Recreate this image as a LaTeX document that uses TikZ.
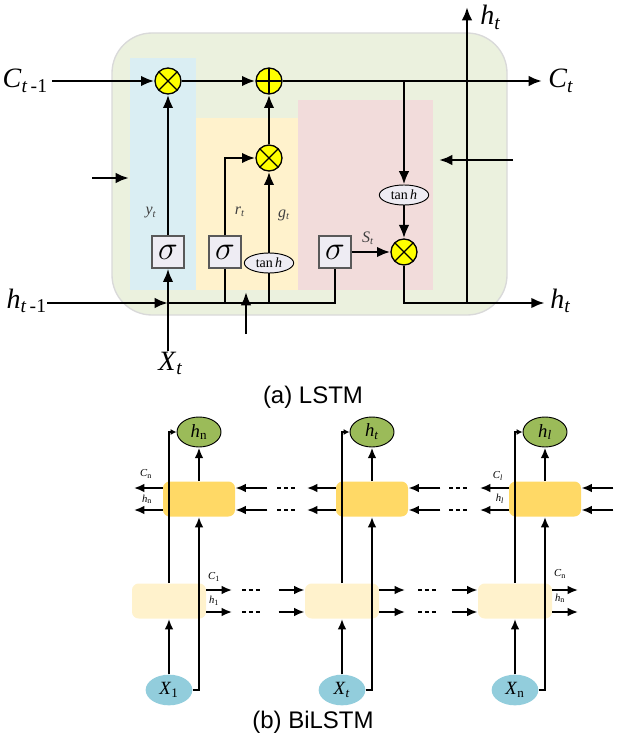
\documentclass[tikz,border=0pt]{standalone}
\usepackage{amsmath,amssymb}
\usepackage{fontspec}
\setmainfont{Liberation Serif}
\newfontfamily\capfont{Liberation Sans}
\usepackage{xcolor}
\usepackage{tikz}
\usetikzlibrary{positioning,arrows.meta,shapes.geometric,calc}

\definecolor{cellgreen}{RGB}{235,241,222}
\definecolor{gateblue}{RGB}{218,238,243}
\definecolor{gateyellow}{RGB}{255,242,204}
\definecolor{gatepink}{RGB}{242,220,219}
\definecolor{gatefill}{RGB}{238,236,243}
\definecolor{opyellow}{RGB}{255,255,0}
\definecolor{outgreen}{RGB}{155,187,89}
\definecolor{inblue}{RGB}{146,205,220}
\definecolor{bwdcolor}{RGB}{255,217,102}
\definecolor{fwdcolor}{RGB}{255,242,204}

% italic letter with subscript, Times-like
\newcommand{\vlab}[2]{\textit{#1}\textsubscript{#2}}

\tikzset{
op/.style={
circle,
draw,
line width=1pt,
fill=opyellow,
minimum size=19.5pt,
inner sep=0pt
},
mult/.style={
op,
path picture={\draw[line width=1pt]
(path picture bounding box.north west)--(path picture bounding box.south east)
(path picture bounding box.north east)--(path picture bounding box.south west);}
},
plusop/.style={
op,
path picture={\draw[line width=1pt]
(path picture bounding box.north)--(path picture bounding box.south)
(path picture bounding box.west)--(path picture bounding box.east);}
},
gate/.style={
draw=black!65,
line width=0.9pt,
fill=gatefill,
minimum size=24pt,
inner sep=0pt,
font=\fontsize{24}{24}\selectfont
},
tanhbox/.style={
ellipse,
draw,
line width=0.7pt,
fill=gatefill,
minimum width=37pt,
minimum height=15pt,
inner sep=0pt,
font=\fontsize{10.5}{10.5}\selectfont
},
arrow/.style={
-{Latex[length=10pt,width=8pt]},
line width=2pt
},
link/.style={
line width=2pt
},
biglabel/.style={
font=\fontsize{21}{24}\selectfont,
inner sep=0pt
},
gatelabel/.style={
font=\fontsize{12}{14}\selectfont,
text=black!75
},
fwdcell/.style={
fill=fwdcolor,
rounded corners=5pt,
minimum width=55.5pt,
minimum height=26.25pt,
inner sep=0pt
},
bwdcell/.style={
fill=bwdcolor,
rounded corners=5pt,
minimum width=54pt,
minimum height=26.25pt,
inner sep=0pt
},
outnode/.style={
ellipse,
draw,
line width=0.7pt,
fill=outgreen,
minimum width=33pt,
minimum height=22.5pt,
inner sep=0pt,
font=\fontsize{14}{14}\selectfont
},
innode/.style={
ellipse,
fill=inblue,
minimum width=35pt,
minimum height=23pt,
inner sep=0pt,
font=\fontsize{14}{14}\selectfont
},
biarrow/.style={
-{Latex[length=8pt,width=6.5pt]},
line width=1.6pt
},
thinarrow/.style={
-{Latex[length=4.5pt,width=4.5pt]},
line width=1.2pt
},
dotline/.style={
line width=1.6pt,
dash pattern=on 3pt off 2.2pt
},
tinylabel/.style={
font=\fontsize{8}{8}\selectfont,
inner sep=0pt
},
caption/.style={
font=\capfont\fontsize{18}{20}\selectfont
}
}

\begin{document}
\begin{tikzpicture}[x=0.75pt,y=-0.75pt]
\useasboundingbox (0,0) rectangle (620,737);

% (a) LSTM cell
\draw[fill=cellgreen,draw=black!15,line width=1pt,rounded corners=30pt] (112,33) rectangle (507,315);
\fill[gateblue] (130,58) rectangle (196,290);
\fill[gateyellow] (196,118) rectangle (298,290);
\fill[gatepink] (298,100) rectangle (433,290);

\node[mult](m1) at (168,81){};
\node[plusop](p1) at (269,81){};
\node[mult](m2) at (269,158){};
\node[mult](m3) at (404,252){};
\node[gate](s1) at (168,252){$\sigma$};
\node[gate](s2) at (225,252){$\sigma$};
\node[gate](s3) at (335,252){$\sigma$};
\node[tanhbox](th1) at (269,263){tan\,\textit{h}};
\node[tanhbox](th2) at (404,195){tan\,\textit{h}};

\node[biglabel,anchor=base east](cin) at (48,88){\vlab{C}{\textit{t}\,-1}};
\node[biglabel,anchor=base west](cout) at (548,88){\vlab{C}{\textit{t}}};
\node[biglabel,anchor=base east](hin) at (47,308){\vlab{h}{\textit{t}\,-1}};
\node[biglabel,anchor=base west](hout) at (550,308){\vlab{h}{\textit{t}}};
\node[biglabel,anchor=base west](htop) at (480,25){\vlab{h}{\textit{t}}};
\node[biglabel,anchor=base west](xin) at (158,370){\vlab{X}{\textit{t}}};

\node[gatelabel](ylab) at (151,213){\vlab{y}{\textit{t}}};
\node[gatelabel](rlab) at (240,212){\vlab{r}{\textit{t}}};
\node[gatelabel](glab) at (284,215){\vlab{g}{\textit{t}}};
\node[gatelabel](slab) at (368,238){\vlab{S}{\textit{t}}};

\coordinate (hx) at (168,303);
\coordinate (hsplit) at (467,303);
\coordinate (htip) at (467,7);
\coordinate (la) at (92,178);
\coordinate (lb) at (129,178);
\coordinate (ra) at (513,160);
\coordinate (rb) at (439,160);
\coordinate (ua) at (246,334);
\coordinate (ub) at (246,292);

\draw[arrow,shorten <=3pt](cin.east |- m1)--(m1);
\draw[arrow](m1)--(p1);
\draw[arrow,shorten >=4.5pt](p1)--(cout.west |- p1);
\draw[arrow](th2 |- p1)--(th2);
\draw[arrow](th2)--(m3);
\draw[arrow](s3)--(m3);
\draw[arrow](s1)--(m1);
\draw[arrow](s2)|-(m2);
\draw[arrow](th1)--(m2);
\draw[arrow](m2)--(p1);
\draw[arrow](hin.east |- hx)--(hx);
\draw[link](hx)-|(s3);
\draw[link](s2 |- hx)--(s2);
\draw[link](th1 |- hx)--(th1);
\draw[arrow](s1 |- xin.north)--(s1);
\draw[arrow,shorten >=4pt](m3)|-(hout.west |- hx);
\draw[arrow](hsplit)--(htip);
\foreach \x/\y in {la/lb,ra/rb,ua/ub}
\draw[arrow](\x)--(\y);

\node[caption](capa) at (313,397){(a) LSTM};

% (b) BiLSTM
\foreach \i/\xf/\ho/\xi in {1/169/n/1,2/342/\textit{t}/\textit{t},3/515/\textit{l}/n}{
\node[fwdcell](f\i) at (\xf,601){};
\node[bwdcell](b\i) at (\xf+30,499){};
\node[outnode](o\i) at (\xf+30,432){\vlab{h}{\ho}};
\node[innode](x\i) at (\xf,690){\vlab{X}{\xi}};
}

\foreach \i in {1,2,3}{
\draw[biarrow](x\i)--(f\i);
\draw[biarrow](x\i.east)-|(b\i);
\draw[thinarrow](f\i)|-(o\i);
\draw[biarrow](b\i)--(o\i);
\foreach \dy in {8.25pt,-8.25pt}{
\draw[biarrow]([yshift=\dy]b\i.west)--++(-29,0);
\draw[biarrow]([yshift=\dy]b\i.east)++(32,0)--([yshift=\dy]b\i.east);
\draw[biarrow]([yshift=\dy]f\i.east)--++(26,0);
}
}
\foreach \i in {2,3}
\foreach \dy in {8.25pt,-8.25pt}
\draw[biarrow]([yshift=\dy]f\i.west)++(-26,0)--([yshift=\dy]f\i.west);

\foreach \xa/\xb/\yy in {277/295/488,277/295/510,449/468/488,449/468/510,242/261/590,242/261/612,418/437/590,418/437/612}
\draw[dotline](\xa,\yy)--(\xb,\yy);

\node[tinylabel](cn1) at (146,474){\vlab{C}{n}};
\node[tinylabel](hn1) at (147,499){\vlab{h}{n}};
\node[tinylabel](c11) at (214,577){\vlab{C}{1}};
\node[tinylabel](h11) at (214,601){\vlab{h}{1}};
\node[tinylabel](cl3) at (498,476){\vlab{C}{\textit{l}}};
\node[tinylabel](hl3) at (500,499){\vlab{h}{\textit{l}}};
\node[tinylabel](cn3) at (560,574){\vlab{C}{n}};
\node[tinylabel](hn3) at (560,598){\vlab{h}{n}};

\node[caption](capb) at (313,722){(b) BiLSTM};
\end{tikzpicture}
\end{document}
